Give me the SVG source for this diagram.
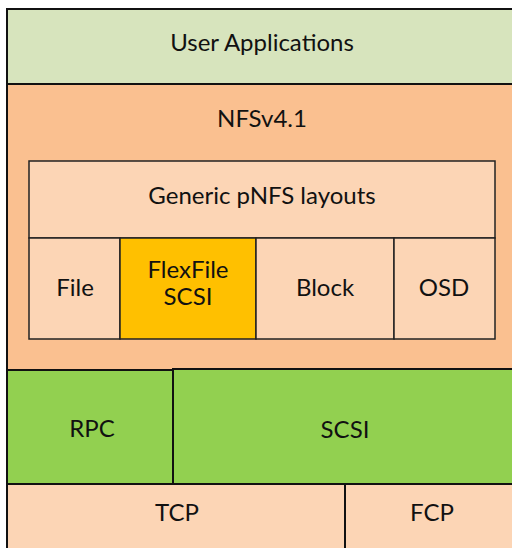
<svg xmlns="http://www.w3.org/2000/svg" width="512" height="548" viewBox="0 0 512 548">
<style>
.t{font-family:Lato,"Open Sans","DejaVu Sans",sans-serif;font-size:24px;fill:#111;text-anchor:middle}
.ob{stroke:#111;stroke-width:2}
.ib{stroke:#222;stroke-width:1.5}
</style>
<rect width="512" height="548" fill="#ffffff"/>
<g id="nfs">
<rect class="ob" x="7" y="84" width="520" height="286" fill="#FAC090"/>
<text class="t" x="262" y="127">NFSv4.1</text>
</g>
<g id="user-applications">
<rect class="ob" x="7" y="9" width="520" height="75" fill="#D7E4BD"/>
<text class="t" x="262" y="51">User Applications</text>
</g>
<g id="generic-pnfs">
<rect class="ib" x="29" y="161" width="466" height="77" fill="#FCD5B5"/>
<text class="t" x="262" y="204">Generic pNFS layouts</text>
</g>
<g id="file">
<rect class="ib" x="29" y="238" width="91" height="101" fill="#FCD5B5"/>
<text class="t" x="75" y="296">File</text>
</g>
<g id="flexfile-scsi">
<rect class="ib" x="120" y="238" width="136" height="101" fill="#FFC000"/>
<text class="t" x="188" y="278">FlexFile</text>
<text class="t" x="188" y="305">SCSI</text>
</g>
<g id="block">
<rect class="ib" x="256" y="238" width="138" height="101" fill="#FCD5B5"/>
<text class="t" x="325" y="296">Block</text>
</g>
<g id="osd">
<rect class="ib" x="394" y="238" width="101" height="101" fill="#FCD5B5"/>
<text class="t" x="444" y="296">OSD</text>
</g>
<g id="scsi">
<rect class="ob" x="173" y="369" width="354" height="115" fill="#92D050" stroke-width="1.5"/>
<text class="t" x="345" y="438">SCSI</text>
</g>
<g id="rpc">
<rect class="ob" x="7" y="370" width="166" height="114" fill="#92D050"/>
<text class="t" x="92" y="437">RPC</text>
</g>
<g id="tcp">
<rect class="ob" x="7" y="484" width="338" height="80" fill="#FCD5B5"/>
<text class="t" x="177" y="521">TCP</text>
</g>
<g id="fcp">
<rect class="ob" x="345" y="484" width="182" height="80" fill="#FCD5B5"/>
<text class="t" x="432" y="521">FCP</text>
</g>
<g id="connectors"></g>
</svg>
